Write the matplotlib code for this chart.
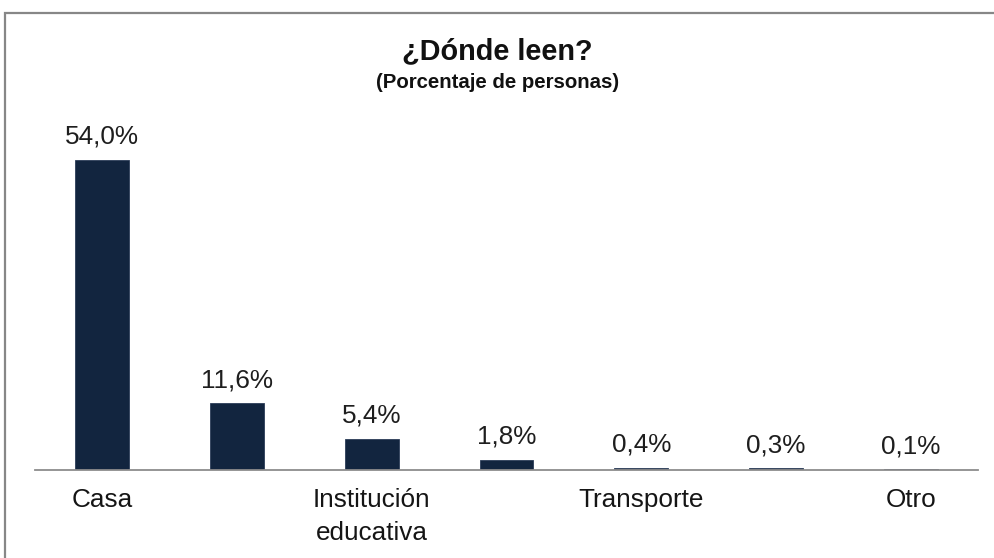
import matplotlib
matplotlib.use("Agg")
import matplotlib.pyplot as plt
from matplotlib.patches import Rectangle

plt.rcParams['font.family'] = ['Liberation Sans', 'DejaVu Sans']

categories = ["Casa", "", "Institución\neducativa", "", "Transporte", "", "Otro"]
values = [54.0, 11.6, 5.4, 1.8, 0.4, 0.3, 0.1]
value_labels = ["54,0%", "11,6%", "5,4%", "1,8%", "0,4%", "0,3%", "0,1%"]
title = "¿Dónde leen?"
subtitle = "(Porcentaje de personas)"

W, H = 995, 558
fig = plt.figure(figsize=(W / 100, H / 100), dpi=100)
fig.patch.set_facecolor("white")

# outer frame
fig.patches.append(Rectangle((5 / W, -0.1), 1.2, 1 - 13 / H + 0.1,
                             transform=fig.transFigure, fill=False,
                             edgecolor="#878787", linewidth=1.6))

ax_left, ax_right = 35 / W, 978 / W
ax_bottom = 1 - 470 / H
ax_top = 1 - 120 / H
ax = fig.add_axes([ax_left, ax_bottom, ax_right - ax_left, ax_top - ax_bottom])
ax.set_facecolor("none")

x = list(range(len(values)))
ax.bar(x, values, width=0.4, color="#12253f", edgecolor="#2b3d58", linewidth=0.6, zorder=2)
ax.set_xlim(-0.5, len(values) - 0.5)
px_per_pct = (470 - 160) / 54.0
ax.set_ylim(0, (470 - 120) / px_per_pct)

for xi, v, lab in zip(x, values, value_labels):
    ax.annotate(lab, (xi, v), xytext=(0, 8), textcoords="offset points",
                ha="center", va="bottom", fontsize=18.8, color="#1e1e1e")

for s in ["top", "right", "left"]:
    ax.spines[s].set_visible(False)
ax.spines["bottom"].set_color("#8c8c8c")
ax.spines["bottom"].set_linewidth(1.3)
ax.set_yticks([])
ax.set_xticks(x)
ax.set_xticklabels(categories, fontsize=18.8, color="#151515", linespacing=1.45, va="top")
ax.tick_params(axis="x", length=0, pad=13)

fig.text(0.5, 1 - 51 / H, title, ha="center", va="center", fontsize=20.8, fontweight="bold", color="#111111")
fig.text(0.5, 1 - 83 / H, subtitle, ha="center", va="center", fontsize=14.7, fontweight="bold", color="#111111")

fig.savefig("out.png", dpi=100, facecolor="white")
